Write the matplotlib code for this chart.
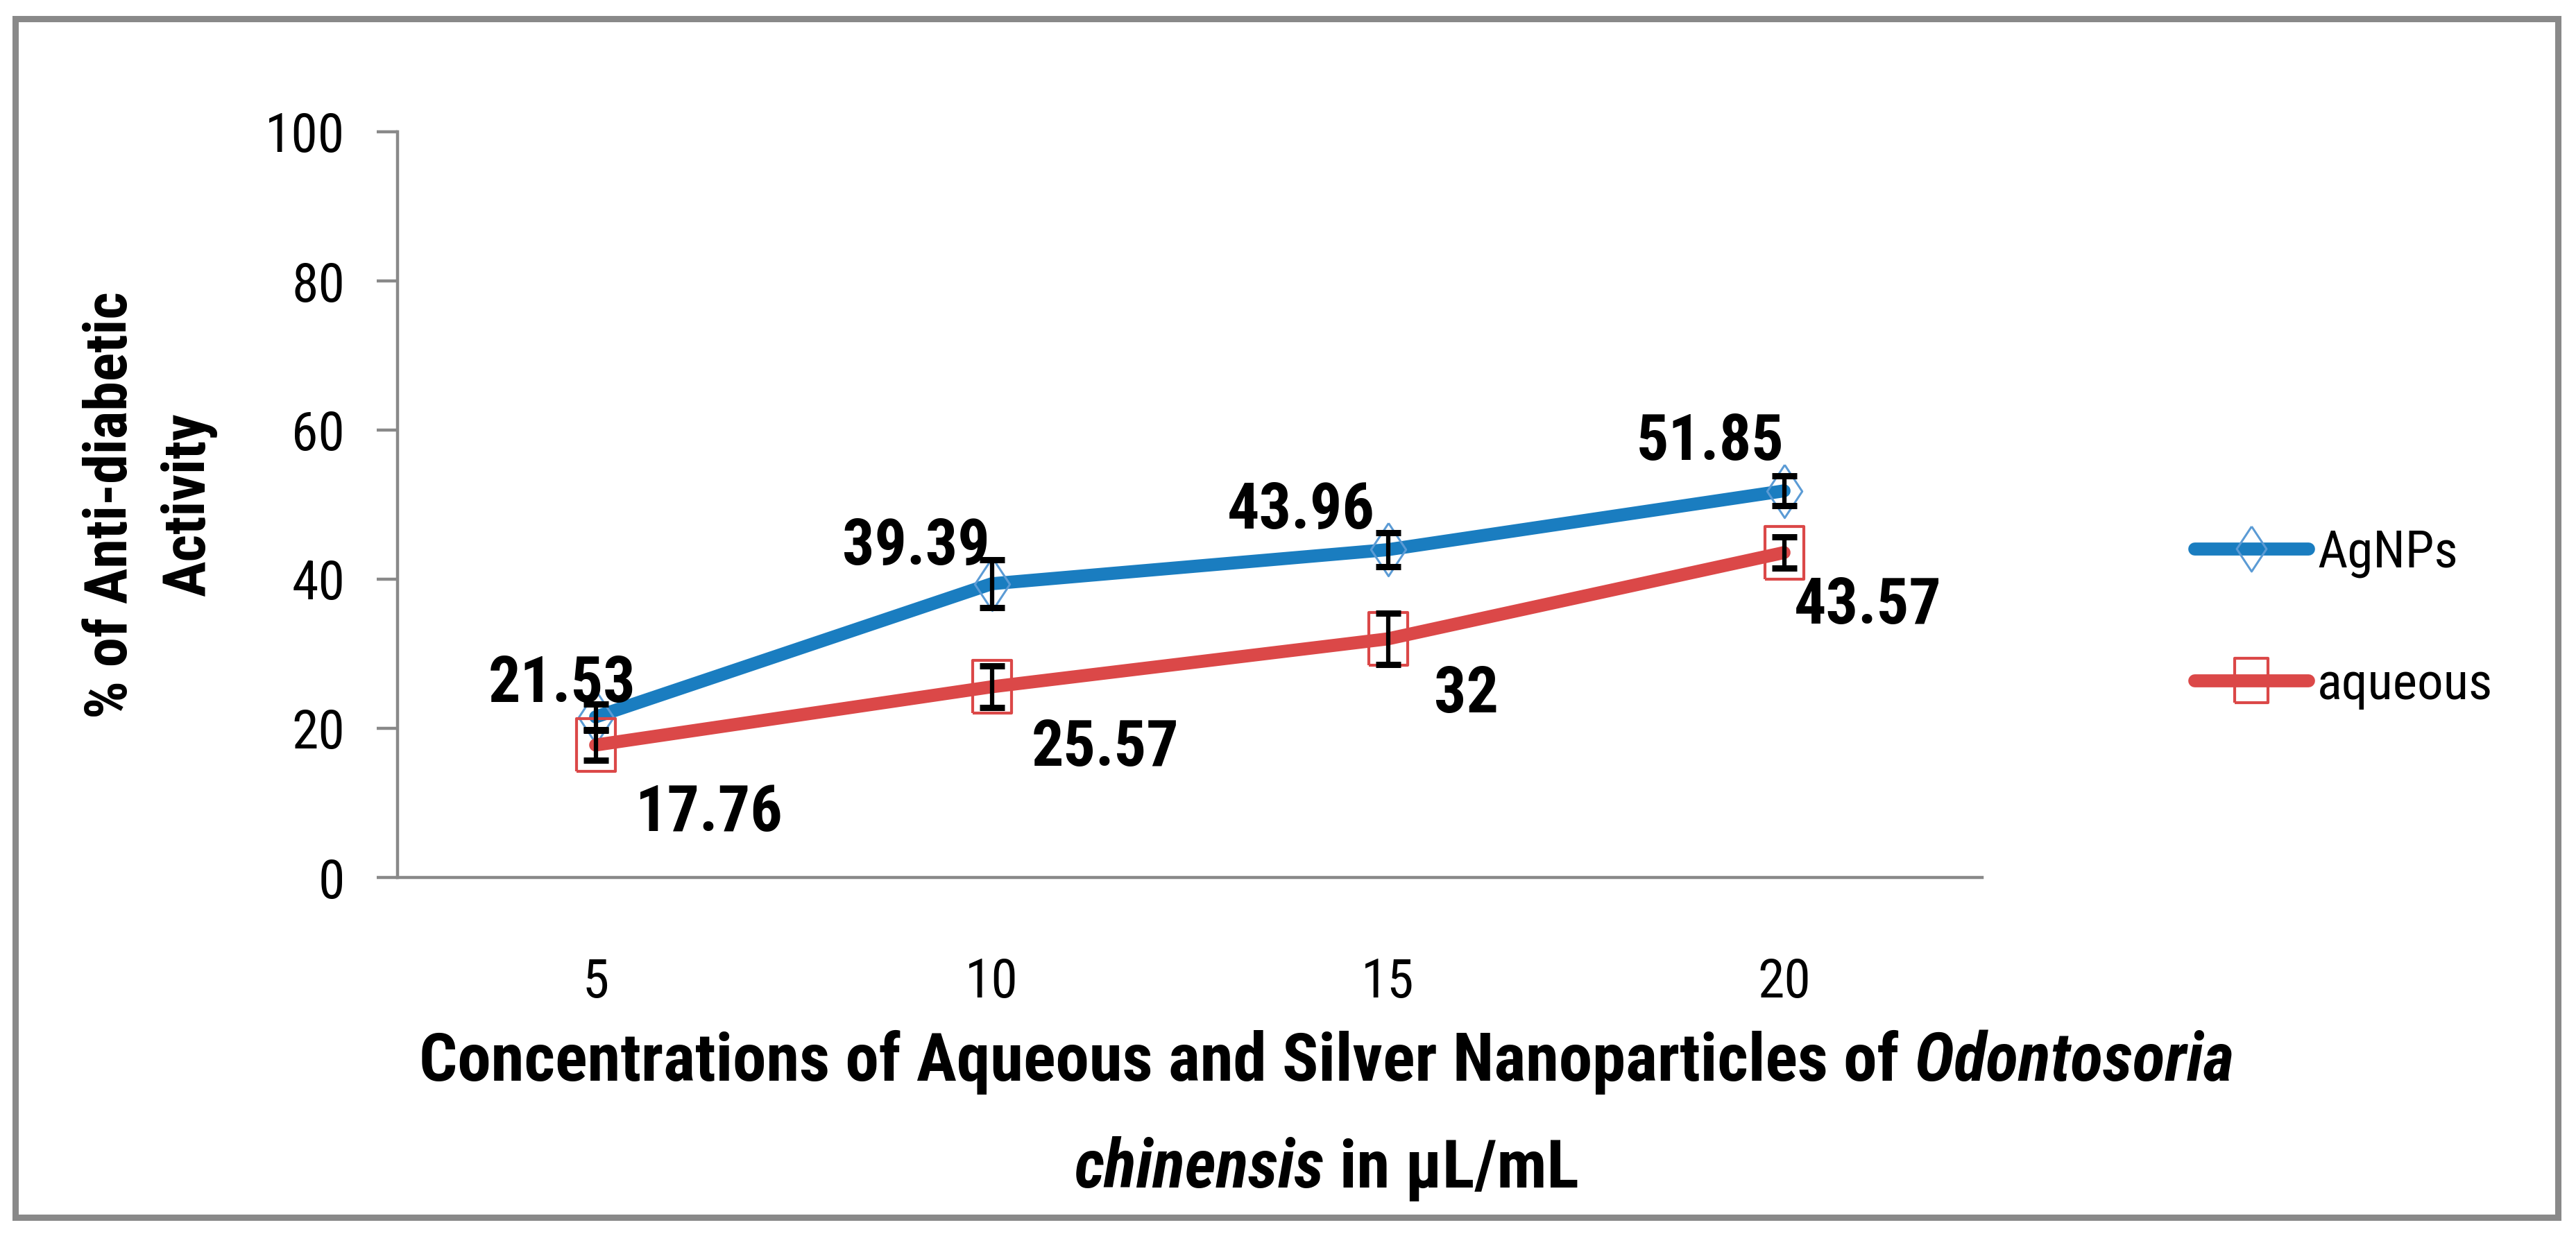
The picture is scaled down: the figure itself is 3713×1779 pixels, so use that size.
import matplotlib
matplotlib.use("Agg")
import matplotlib.pyplot as plt
from matplotlib import font_manager
from matplotlib.font_manager import FontProperties
from matplotlib.patches import Rectangle
import numpy as np

# ---------------- data ----------------
conc = ["5", "10", "15", "20"]
agnps = [21.53, 39.39, 43.96, 51.85]
aqueous = [17.76, 25.57, 32, 43.57]
agnps_err = [1.7, 3.2, 2.3, 2.0]
aqueous_err = [2.0, 2.8, 3.4, 2.1]
agnps_lbl = ["21.53", "39.39", "43.96", "51.85"]
aqueous_lbl = ["17.76", "25.57", "32", "43.57"]
yticks = [0, 20, 40, 60, 80, 100]

# ---------------- font ----------------
names = {f.name for f in font_manager.fontManager.ttflist}
FONT = "DejaVu Sans"
for cand in ["Liberation Sans Narrow", "Roboto Condensed", "Open Sans Condensed"]:
    if cand in names:
        FONT = cand
        break
plt.rcParams["font.family"] = [FONT, "DejaVu Sans"]

W, H = 3713, 1779
DPI = 100
fig = plt.figure(figsize=(W / DPI, H / DPI), dpi=DPI)
fig.patch.set_facecolor("white")
renderer = fig.canvas.get_renderer()

BLUE = "#1a7dc0"
BLUE_EDGE = "#5b9bd5"
RED = "#db4848"
GREY = "#898989"


def px(x, y):
    # pixel position (from top-left) -> figure fraction
    return x / W, 1 - y / H


def text_width(s, size, weight="normal", style="normal"):
    t = fig.text(0, 0, s, fontsize=size, fontweight=weight, fontstyle=style)
    w = t.get_window_extent(renderer).width
    t.remove()
    return w


def fit_size(s, target_w, max_pt, weight="normal", style="normal"):
    w = text_width(s, 100, weight, style)
    return min(max_pt, 100 * target_w / w)


def line_width(pieces, size):
    sp = text_width("a a", size, "bold") - text_width("aa", size, "bold")
    total = 0
    for i, (s, st) in enumerate(pieces):
        total += text_width(s, size, "bold", st)
        if i < len(pieces) - 1:
            total += sp
    return total, sp


def place_line(pieces, cx, ybase, size):
    total, sp = line_width(pieces, size)
    x = cx - total / 2
    for s, st in pieces:
        fig.text(*px(x, ybase), s, fontsize=size, fontweight="bold",
                 fontstyle=st, ha="left", va="baseline")
        x += text_width(s, size, "bold", st) + sp


# font sizes fitted to the reference text extents
tick_fs = fit_size("100", 115, 68)
lbl_fs = fit_size("39.39", 213, 78, "bold")
leg_fs = fit_size("AgNPs", 203, 64)
ylab_fs = fit_size("% of Anti-diabetic", 911, 62, "bold")

line1 = [("Concentrations of Aqueous and Silver Nanoparticles of", "normal"),
         ("Odontosoria", "italic")]
line2 = [("chinensis", "italic"), ("in µL/mL", "normal")]
w100, _ = line_width(line1, 100)
xlab_fs = min(78, 100 * 2616 / w100)

# ---------------- outer frame ----------------
fig.add_artist(Rectangle(px(22, 1755), (3687 - 22) / W, (1755 - 27) / H,
                         transform=fig.transFigure, fill=False,
                         edgecolor=GREY, linewidth=6.5))

# ---------------- axes ----------------
ax = fig.add_axes([573 / W, 1 - 1265 / H, (2857 - 573) / W, (1265 - 190) / H])
x = np.arange(len(conc))

diamond = [(0, 1), (0.66, 0), (0, -1), (-0.66, 0), (0, 1)]
square = [(-0.74, -1), (0.74, -1), (0.74, 1), (-0.74, 1), (-0.74, -1)]

l1, = ax.plot(x, agnps, color=BLUE, lw=13.5, marker=diamond, ms=55,
              mfc="none", mec=BLUE_EDGE, mew=2.2, solid_capstyle="round",
              zorder=3, clip_on=False, label="AgNPs")
l2, = ax.plot(x, aqueous, color=RED, lw=13.5, marker=square, ms=55,
              mfc="none", mec=RED, mew=3, solid_capstyle="round",
              zorder=3, clip_on=False, label="aqueous")
ax.errorbar(x, agnps, yerr=agnps_err, fmt="none", ecolor="black",
            elinewidth=4.5, capsize=13, capthick=6.5, zorder=4)
ax.errorbar(x, aqueous, yerr=aqueous_err, fmt="none", ecolor="black",
            elinewidth=4.5, capsize=13, capthick=6.5, zorder=4)

# data labels (offsets in pixels from the point)
agnps_off = [(58, 22), (-3, 28), (-19, 30), (0, 45)]
aqueous_off = [(57, -124), (57, -114), (66, -106), (14, -102)]
for xi, v, s, off in zip(x, agnps, agnps_lbl, agnps_off):
    ax.annotate(s, (xi, v), xytext=off, textcoords="offset pixels",
                ha="right", va="baseline", fontsize=lbl_fs, fontweight="bold",
                zorder=5)
for xi, v, s, off in zip(x, aqueous, aqueous_lbl, aqueous_off):
    ax.annotate(s, (xi, v), xytext=off, textcoords="offset pixels",
                ha="left", va="baseline", fontsize=lbl_fs, fontweight="bold",
                zorder=5)

ax.set_xlim(-0.5, 3.5)
ax.set_ylim(0, 100)
ax.set_yticks(yticks)
ax.set_xticks(x, conc)
for sp in ["top", "right"]:
    ax.spines[sp].set_visible(False)
for sp in ["left", "bottom"]:
    ax.spines[sp].set_color(GREY)
    ax.spines[sp].set_linewidth(3.2)
ax.tick_params(axis="y", length=21.6, width=3.2, color=GREY, pad=33,
               labelsize=tick_fs)
ax.tick_params(axis="x", length=0, pad=82, labelsize=tick_fs)
ax.set_facecolor("none")

# legend
em = leg_fs / 0.72
ax.legend(handles=[l1, l2], prop=FontProperties(family=FONT, size=leg_fs),
          frameon=False, loc="center left",
          bbox_to_anchor=px(3163, 892), bbox_transform=fig.transFigure,
          handlelength=164 / em, handletextpad=13 / em,
          labelspacing=(190 - 0.95 * em) / em, borderpad=0, borderaxespad=0,
          markerscale=0.85)

# axis titles
fig.text(*px(183, 728), "% of Anti-diabetic", rotation=90,
         rotation_mode="anchor", ha="center", va="baseline",
         fontsize=ylab_fs, fontweight="bold")
fig.text(*px(295, 728), "Activity", rotation=90,
         rotation_mode="anchor", ha="center", va="baseline",
         fontsize=ylab_fs, fontweight="bold")

place_line(line1, 1912, 1558, xlab_fs)
place_line(line2, 1912, 1712, xlab_fs)

fig.savefig("out.png", dpi=DPI, facecolor="white")
